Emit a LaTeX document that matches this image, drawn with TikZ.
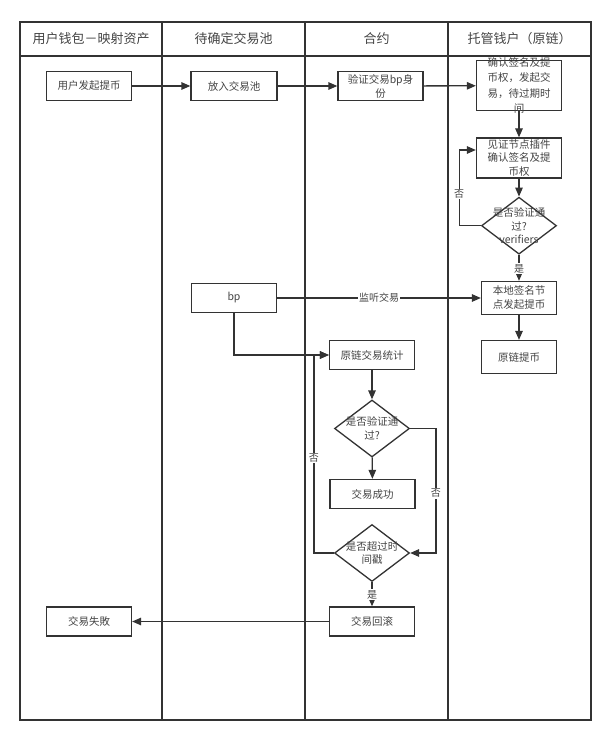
\documentclass[tikz,border=0pt]{standalone}
\usepackage{fontspec}
\setmainfont{Noto Sans CJK SC}
\usetikzlibrary{arrows.meta,shapes.geometric}
\definecolor{linegray}{HTML}{333333}
\definecolor{textgray}{HTML}{444444}

\begin{document}
\begin{tikzpicture}[x=1pt, y=-1pt,
        lane/.style={draw=linegray, line width=1.4pt},
        head/.style={text=textgray, font=\fontsize{13}{15}\selectfont},
        box/.style={draw=linegray, line width=1.3pt, minimum width=85pt, minimum height=29pt,
            inner sep=1pt, align=center, text=textgray, font=\fontsize{10.5}{14}\selectfont},
        choice/.style={draw=linegray, line width=1.3pt, diamond, minimum width=75pt, minimum height=57pt,
            inner sep=0pt},
        inside/.style={align=center, text=textgray, font=\fontsize{10.5}{13.5}\selectfont},
        tag/.style={fill=white, inner sep=1pt, text=textgray, font=\fontsize{10}{12}\selectfont},
        flow/.style={draw=linegray, line width=1.3pt, -{Triangle[length=9pt,width=7.5pt]}}]
    \useasboundingbox (0,0) rectangle (612,741);

    % swim lanes
    \draw[lane] (20,22) rectangle (591,720);
    \draw[lane] (20,56) -- (591,56);
    \foreach \x in {162,305,448}
        \draw[lane] (\x,22) -- (\x,720);
    \node[head] (head1) at (91,39) {用户钱包－映射资产};
    \node[head] (head2) at (233.5,39) {待确定交易池};
    \node[head] (head3) at (376.5,39) {合约};
    \node[head] (head4) at (519.5,39) {托管钱户（原链）};

    % steps
    \node[box] (start) at (89,86) {用户发起提币};
    \node[box, minimum width=86pt] (pool) at (234,86) {放入交易池};
    \node[box] (verify) at (380.5,86) {验证交易bp身\\份};
    \node[box, minimum height=50pt, inner ysep=-3.5pt, font=\fontsize{10.5}{15.5}\selectfont] (confirm) at (519,85.7)
        {确认签名及提\\币权，发起交\\易，待过期时\\间};
    \node[box, minimum height=40pt, font=\fontsize{10.5}{13.5}\selectfont] (witness) at (519,158)
        {见证节点插件\\确认签名及提\\币权};
    \node[choice, label={[inside]center:是否验证通\\过?\\verifiers}] (check1) at (519,225.7) {};
    \node[box, minimum width=75pt, minimum height=33pt] (local) at (519,298) {本地签名节\\点发起提币};
    \node[box, minimum width=75pt, minimum height=33pt] (chain) at (519,357) {原链提币};
    \node[box] (bp) at (234,298) {bp};
    \node[box] (stat) at (372,355) {原链交易统计};
    \node[choice, label={[inside]center:是否验证通\\过?}] (check2) at (372,428.5) {};
    \node[box] (success) at (372.5,494) {交易成功};
    \node[choice, label={[inside]center:是否超过时\\间戳}] (check3) at (372,553) {};
    \node[box] (rollback) at (372,621.5) {交易回滚};
    \node[box] (fail) at (89,621.5) {交易失敗};

    % connections
    \draw[flow] (start) -- (pool);
    \draw[flow] (pool) -- (verify);
    \draw[flow] (verify) -- (confirm);
    \draw[flow] (confirm) -- (witness);
    \draw[flow] (witness) -- (check1);
    \draw[flow] (check1.west) -- ++(-21.7,0) |- node[pos=0.21, tag] {否} ([yshift=8pt]witness.west);
    \draw[flow] (check1) -- node[pos=0.54, tag] {是} (local);
    \draw[flow] (local) -- (chain);
    \draw[flow] (bp) -- node[tag] {监听交易} (local);
    \draw[flow] (bp.south) |- (stat.west);
    \draw[flow] (stat) -- (check2);
    \draw[flow] (check2) -- (success);
    \draw[flow] (check2.east) -- ++(25.7,0) |- node[pos=0.26, tag] {否} (check3.east);
    \draw[flow] (check3.west) -- ++(-20,0) |- node[pos=0.24, tag] {否} (stat.west);
    \draw[flow] (check3) -- node[pos=0.52, tag] {是} (rollback);
    \draw[flow] (rollback) -- (fail);
\end{tikzpicture}
\end{document}
